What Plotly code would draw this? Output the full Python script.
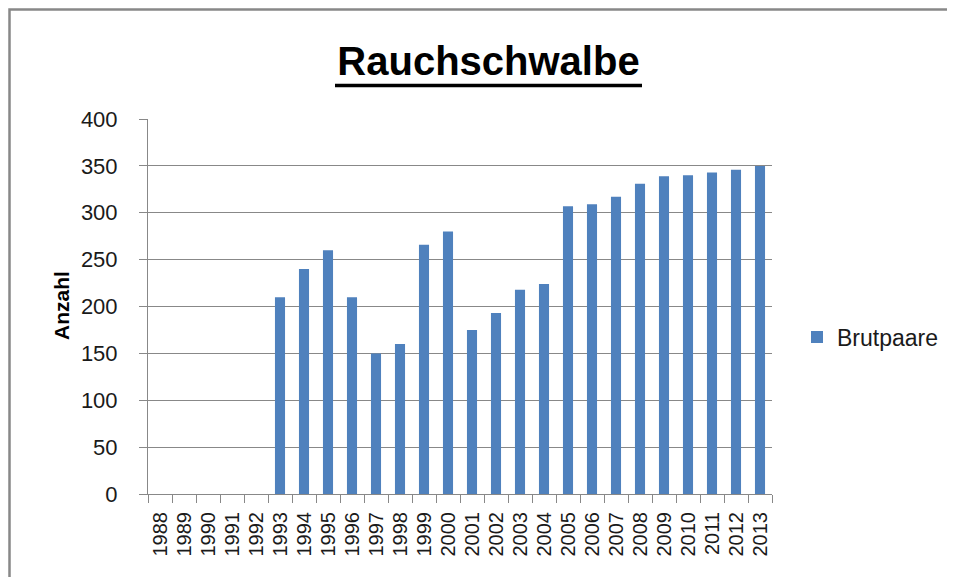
import plotly.graph_objects as go

years = [str(y) for y in range(1988, 2014)]
brutpaare = [None, None, None, None, None,
             210, 240, 260, 210, 150, 160, 266, 280, 175, 193, 218, 224,
             307, 309, 317, 331, 339, 340, 343, 346, 350]
y_ticks = [0, 50, 100, 150, 200, 250, 300, 350, 400]

W, H = 955, 577
OFF = 8  # page body margin shifts the figure by 8px
L, R, T, B = 148 - OFF, 772 - OFF, 119 - OFF, 494 - OFF
pw, ph = R - L, B - T

def px(x):
    return (x - OFF - L) / pw

def py(y):
    return (B - (y - OFF)) / ph

fig = go.Figure()
fig.add_trace(go.Bar(x=years, y=brutpaare, name="Brutpaare",
                     marker=dict(color="#4F81BD", line=dict(width=0))))

font_main = "Liberation Sans, Arial, sans-serif"

fig.update_layout(
    width=W, height=H,
    margin=dict(l=L, r=W - R, t=T, b=H - B, pad=0),
    paper_bgcolor="white", plot_bgcolor="white",
    bargap=0.58,
    showlegend=True,
    font=dict(family=font_main, color="#1a1a1a"),
    title=dict(text="<b>Rauchschwalbe</b>", x=(488.5 - OFF) / W, xref="container", xanchor="center",
               y=1 - (61 - OFF) / H, yref="container", yanchor="middle",
               font=dict(family=font_main, size=40, color="black")),
    legend=dict(x=px(797), y=py(337), xanchor="left", yanchor="middle",
                font=dict(family=font_main, size=23, color="#1a1a1a"),
                bgcolor="rgba(0,0,0,0)"),
    xaxis=dict(type="category", showgrid=False, showline=True, linecolor="#888888", linewidth=1,
               ticks="outside", tickson="boundaries", ticklen=8, tickcolor="#888888", tickwidth=1,
               tickangle=-90, tickfont=dict(family=font_main, size=20, color="#1a1a1a"),
               ticklabelstandoff=9, fixedrange=True),
    yaxis=dict(range=[0, 400], tickvals=y_ticks, showgrid=True, gridcolor="#888888", gridwidth=1.3,
               showline=True, linecolor="#888888", linewidth=1, zeroline=False,
               ticks="outside", ticklen=8, tickcolor="#888888", tickwidth=1,
               tickfont=dict(family=font_main, size=22, color="#1a1a1a"),
               ticklabelstandoff=17, fixedrange=True),
    shapes=[
        # outer chart frame
        dict(type="rect", xref="paper", yref="paper",
             x0=px(OFF + 1.5), x1=px(1000), y0=py(620), y1=py(OFF + 1.5),
             line=dict(color="#888888", width=2.5), fillcolor="rgba(0,0,0,0)", layer="below"),
        # title underline
        dict(type="line", xref="paper", yref="paper",
             x0=px(335), x1=px(642), y0=py(85.5), y1=py(85.5),
             line=dict(color="black", width=3.5)),
    ],
    annotations=[
        dict(text="<b>Anzahl</b>", xref="paper", yref="paper", x=px(61), y=py(306),
             xanchor="center", yanchor="middle", textangle=-90, showarrow=False,
             font=dict(family=font_main, size=21, color="black")),
    ],
)

fig.write_html("out.html")
